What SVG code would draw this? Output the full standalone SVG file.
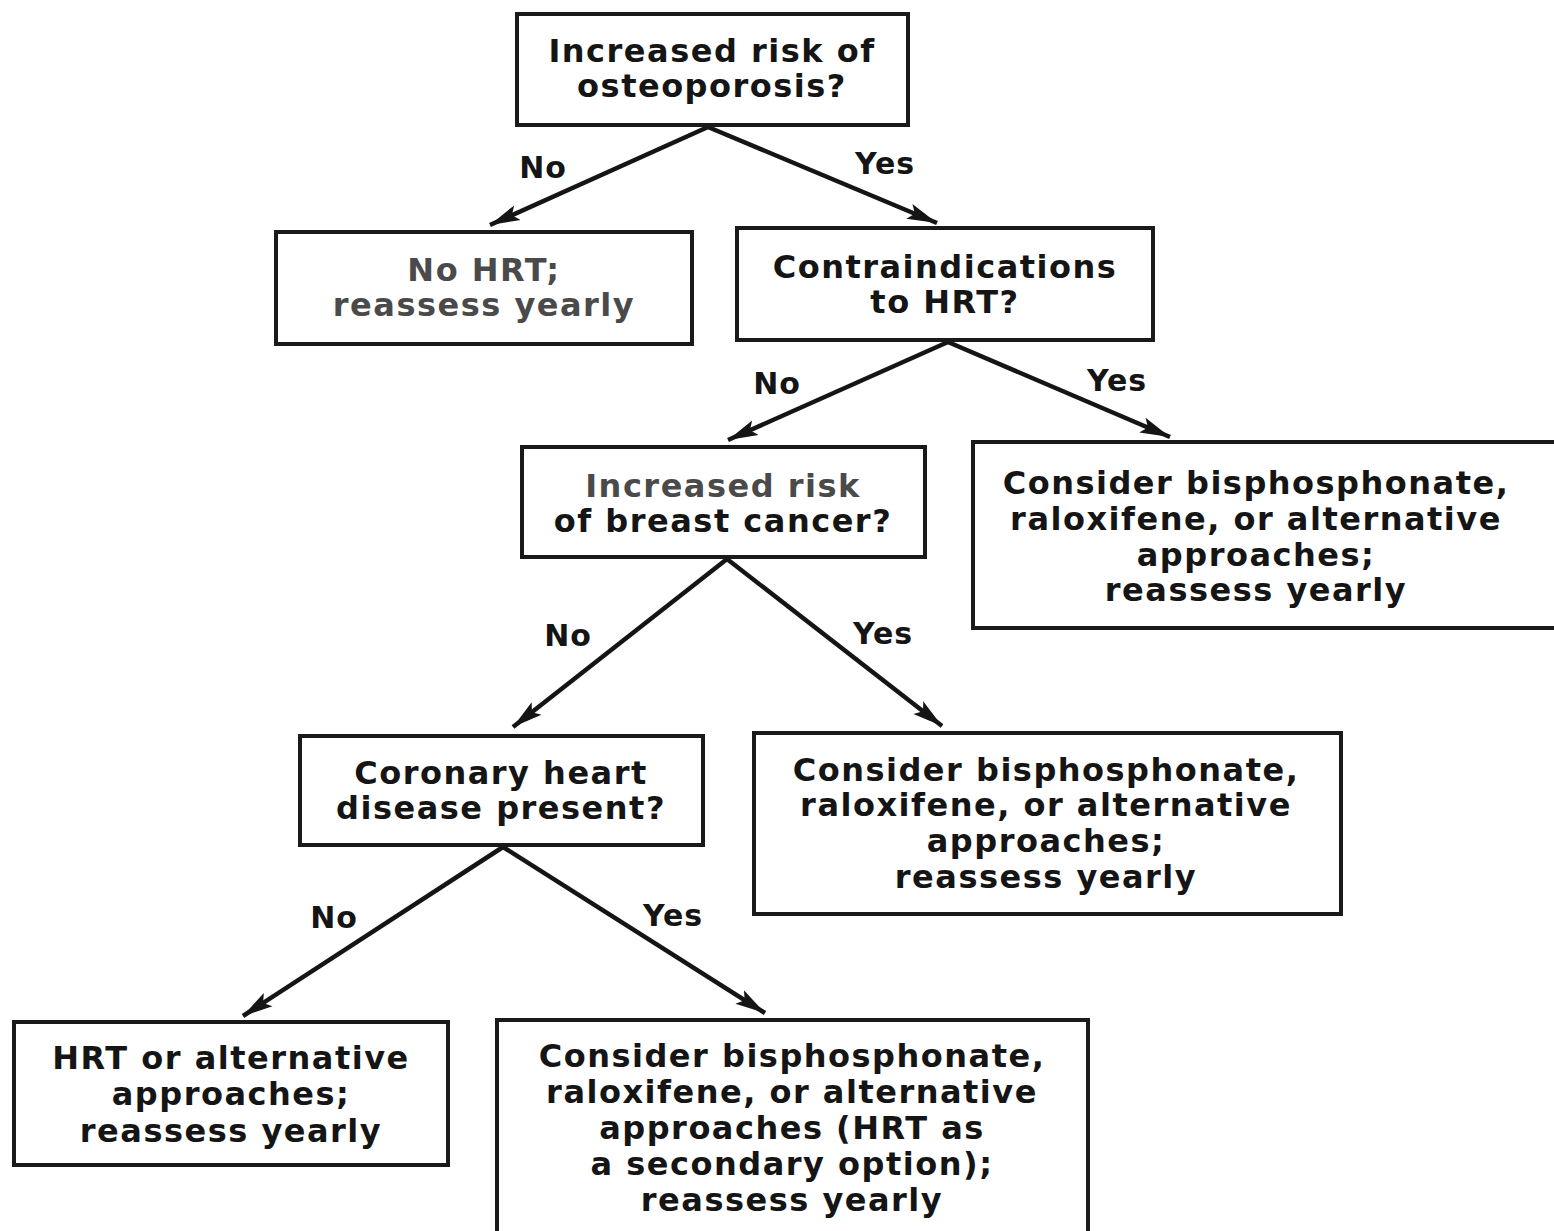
<svg xmlns="http://www.w3.org/2000/svg" width="1554" height="1231" viewBox="0 0 1554 1231">
<style>
.box{fill:#fff;stroke:#1a1a1a;stroke-width:4}
.t{font-family:"DejaVu Sans","Liberation Sans",sans-serif;font-weight:bold;font-size:32px;letter-spacing:1.5px;text-anchor:middle;fill:#151515}
.g{fill:#4a4a4a}
.lbl{font-family:"DejaVu Sans","Liberation Sans",sans-serif;font-weight:bold;font-size:30px;letter-spacing:1px;text-anchor:middle;fill:#151515}
.c{stroke:#151515;stroke-width:4.5;fill:none;marker-end:url(#ah)}
</style>
<defs>
<marker id="ah" markerUnits="userSpaceOnUse" markerWidth="34" markerHeight="24" refX="30" refY="10" orient="auto">
<path d="M0,2 L30,10 L0,18 L6,10 Z" fill="#151515"/>
</marker>
</defs>
<rect width="1554" height="1231" fill="#fff"/>
<g id="connectors">
<line class="c" x1="708" y1="127" x2="490" y2="225"/>
<line class="c" x1="708" y1="127" x2="937" y2="223"/>
<line class="c" x1="948" y1="342" x2="728" y2="440"/>
<line class="c" x1="948" y1="342" x2="1170" y2="437"/>
<line class="c" x1="727" y1="559" x2="513" y2="727"/>
<line class="c" x1="727" y1="559" x2="942" y2="726"/>
<line class="c" x1="503" y1="847" x2="243" y2="1016"/>
<line class="c" x1="503" y1="847" x2="765" y2="1013"/>
<text class="lbl" x="543" y="178">No</text>
<text class="lbl" x="885" y="174">Yes</text>
<text class="lbl" x="777" y="394">No</text>
<text class="lbl" x="1117" y="391">Yes</text>
<text class="lbl" x="568" y="646">No</text>
<text class="lbl g" x="883" y="644">Yes</text>
<text class="lbl" x="334" y="928">No</text>
<text class="lbl g" x="673" y="926">Yes</text>
</g>
<g id="n1">
<rect class="box" x="517" y="14" width="391" height="111"/>
<text class="t" x="712" y="62">Increased risk of</text>
<text class="t" x="712" y="97">osteoporosis?</text>
</g>
<g id="n2">
<rect class="box" x="276" y="232" width="416" height="112"/>
<text class="t g" x="484" y="281">No HRT;</text>
<text class="t g" x="484" y="316">reassess yearly</text>
</g>
<g id="n3">
<rect class="box" x="737" y="228" width="416" height="112"/>
<text class="t" x="945" y="278">Contraindications</text>
<text class="t" x="945" y="313">to HRT?</text>
</g>
<g id="n4">
<rect class="box" x="522" y="447" width="403" height="110"/>
<text class="t g" x="723" y="497">Increased risk</text>
<text class="t" x="723" y="532">of breast cancer?</text>
</g>
<g id="n5">
<rect class="box" x="973" y="442" width="590" height="186"/>
<text class="t" x="1256" y="494">Consider bisphosphonate,</text>
<text class="t" x="1256" y="530">raloxifene, or alternative</text>
<text class="t" x="1256" y="566">approaches;</text>
<text class="t" x="1256" y="601">reassess yearly</text>
</g>
<g id="n6">
<rect class="box" x="300" y="736" width="403" height="109"/>
<text class="t" x="501" y="784">Coronary heart</text>
<text class="t" x="501" y="819">disease present?</text>
</g>
<g id="n7">
<rect class="box" x="754" y="733" width="587" height="181"/>
<text class="t" x="1046" y="781">Consider bisphosphonate,</text>
<text class="t" x="1046" y="816">raloxifene, or alternative</text>
<text class="t" x="1046" y="852">approaches;</text>
<text class="t" x="1046" y="888">reassess yearly</text>
</g>
<g id="n8">
<rect class="box" x="14" y="1022" width="434" height="143"/>
<text class="t" x="231" y="1069">HRT or alternative</text>
<text class="t" x="231" y="1105">approaches;</text>
<text class="t" x="231" y="1142">reassess yearly</text>
</g>
<g id="n9">
<rect class="box" x="497" y="1020" width="591" height="215"/>
<text class="t" x="792" y="1067">Consider bisphosphonate,</text>
<text class="t" x="792" y="1103">raloxifene, or alternative</text>
<text class="t" x="792" y="1139">approaches (HRT as</text>
<text class="t" x="792" y="1175">a secondary option);</text>
<text class="t" x="792" y="1211">reassess yearly</text>
</g>
</svg>
